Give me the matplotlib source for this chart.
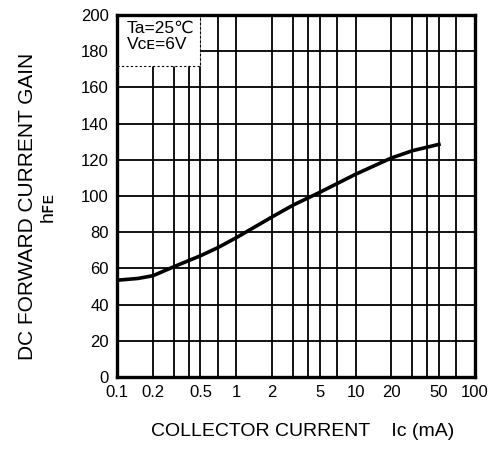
import matplotlib
matplotlib.use("Agg")
import matplotlib.pyplot as plt
from matplotlib.patches import Rectangle
from matplotlib.ticker import FixedLocator, NullFormatter

plt.rcParams['font.family'] = ['Liberation Sans', 'DejaVu Sans']

# hFE vs Ic curve
ic_ma = [0.1, 0.15, 0.2, 0.3, 0.5, 0.7, 1, 2, 3, 5, 10, 20, 30, 50]
hfe = [53.5, 54.5, 56, 61, 67, 71.5, 77, 88.5, 95, 102, 112, 121, 125, 128.5]

x_ticks = [0.1, 0.2, 0.5, 1, 2, 5, 10, 20, 50, 100]
x_tick_labels = ['0.1', '0.2', '0.5', '1', '2', '5', '10', '20', '50', '100']
x_grid = [m * d for d in [0.1, 1, 10] for m in [1, 2, 3, 4, 5, 7]] + [100]
y_ticks = list(range(0, 201, 20))

fig = plt.figure(figsize=(4.90, 4.49), dpi=100)
ax = fig.add_axes([0.239, 0.160, 0.730, 0.807])

ax.set_xscale('log')
ax.set_xlim(0.1, 100)
ax.set_ylim(0, 200)

# grid lines
for gx in x_grid:
    ax.axvline(gx, color='black', lw=1.3, zorder=1)
for gy in y_ticks:
    ax.axhline(gy, color='black', lw=1.3, zorder=1)

ax.plot(ic_ma, hfe, color='black', lw=2.6, zorder=4)

ax.xaxis.set_major_locator(FixedLocator(x_ticks))
ax.set_xticklabels(x_tick_labels)
ax.xaxis.set_minor_formatter(NullFormatter())
ax.xaxis.set_minor_locator(FixedLocator([]))
ax.set_yticks(y_ticks)
ax.tick_params(length=0, labelsize=12)
ax.tick_params(axis='x', pad=6)
ax.tick_params(axis='y', pad=6)

for s in ax.spines.values():
    s.set_linewidth(2.4)
    s.set_zorder(5)

# condition box (covers grid in the corner)
ax.add_patch(Rectangle((0.1, 172), 0.4, 28, fc='white', ec='black', lw=0.8,
                       ls=(0, (2, 2)), zorder=3))
ax.text(0.12, 196.5, 'Ta=25\u2103\nV\u1d04\u1d07=6V', ha='left', va='top',
        fontsize=12.5, linespacing=1.05, zorder=6)

fig.text(0.057, 0.54, 'DC FORWARD CURRENT GAIN', rotation=90, ha='center', va='center', fontsize=15)
fig.text(0.098, 0.54, 'h\ua730\u1d07', rotation=90, ha='center', va='center', fontsize=14)
fig.text(0.618, 0.038, 'COLLECTOR CURRENT    I\u1d04 (mA)', ha='center', va='center', fontsize=14)

fig.savefig('out.png', dpi=100)
